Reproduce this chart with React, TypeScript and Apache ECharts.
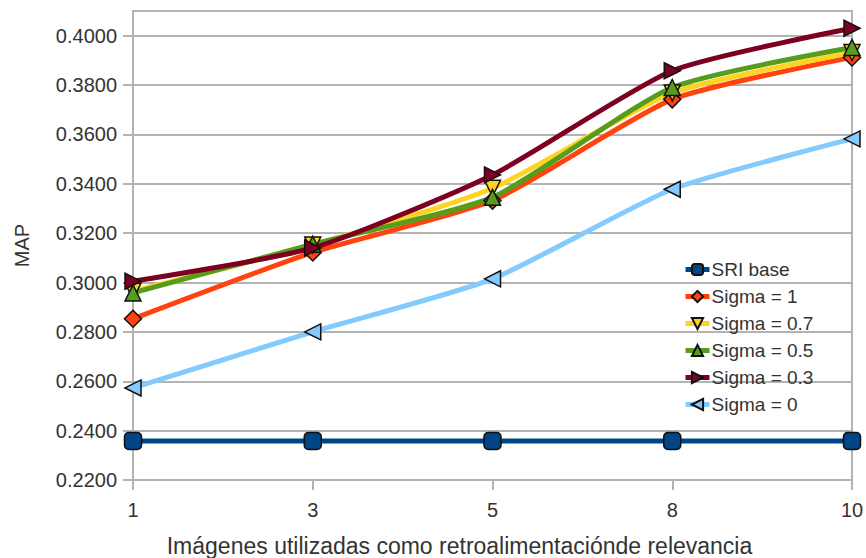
import React, { useEffect, useRef } from "react";
import * as echarts from "echarts";

const categories = ["1", "3", "5", "8", "10"];
const sriBase = [0.2358, 0.2358, 0.2358, 0.2358, 0.2358];
const sigma1 = [0.2853, 0.3122, 0.3332, 0.3742, 0.3912];
const sigma07 = [0.2965, 0.3152, 0.3382, 0.3768, 0.3932];
const sigma05 = [0.2958, 0.3155, 0.3345, 0.3790, 0.3952];
const sigma03 = [0.3005, 0.3140, 0.3436, 0.3858, 0.4030];
const sigma0 = [0.2573, 0.2800, 0.3015, 0.3378, 0.3582];
const yTicks = [0.22, 0.24, 0.26, 0.28, 0.3, 0.32, 0.34, 0.36, 0.38, 0.4];

const FONT = "'Liberation Sans', Arial, sans-serif";
const TEXT = "#333333";
const GRID = "#b3b3b3";

export default function App() {
  const ref = useRef<HTMLDivElement>(null);
  useEffect(() => {
    if (!ref.current) return;
    const chart = echarts.init(ref.current, undefined, { renderer: "svg" });
    const mk = (name: string, data: number[], color: string, symbol: string, size: number, rotate = 0) => ({
      name,
      type: "line",
      data,
      smooth: 0.2,
      symbol,
      symbolSize: size,
      symbolRotate: rotate,
      showAllSymbol: true,
      lineStyle: { color, width: 5 },
      itemStyle: { color, borderColor: "#111", borderWidth: 1.5 },
    });
    chart.setOption({
      animation: false,
      textStyle: { fontFamily: FONT },
      grid: {
        left: 133,
        right: 14,
        top: 11,
        bottom: 78,
        outerBoundsMode: "none",
        show: true,
        borderColor: GRID,
        borderWidth: 2,
      },
      legend: {
        orient: "vertical",
        left: 678,
        top: 255,
        itemWidth: 24,
        itemHeight: 14,
        itemGap: 8,
        lineStyle: { width: 5 },
        textStyle: { fontSize: 19, color: TEXT, fontFamily: FONT, padding: [0, 0, 0, -3] },
        data: ["SRI base", "Sigma = 1", "Sigma = 0.7", "Sigma = 0.5", "Sigma = 0.3", "Sigma = 0"],
      },
      xAxis: {
        type: "category",
        data: categories,
        boundaryGap: false,
        name: "Imágenes utilizadas como retroalimentaciónde relevancia",
        nameLocation: "middle",
        nameGap: 54,
        nameTextStyle: { fontSize: 23, color: TEXT, fontFamily: FONT, padding: [0, 66, 0, 0] },
        axisLine: { lineStyle: { color: GRID, width: 2 } },
        axisTick: { show: true, length: 10, alignWithLabel: true, lineStyle: { color: GRID, width: 2 } },
        axisLabel: { fontSize: 20, color: TEXT, margin: 20, fontFamily: FONT },
        splitLine: { show: false },
      },
      yAxis: {
        type: "value",
        min: 0.22,
        max: 0.41,
        interval: 0.02,
        name: "MAP",
        nameLocation: "middle",
        nameGap: 101,
        nameTextStyle: { fontSize: 20, color: TEXT, fontFamily: FONT },
        axisLine: { show: true, lineStyle: { color: GRID, width: 2 } },
        axisTick: { show: true, length: 10, customValues: yTicks, lineStyle: { color: GRID, width: 2 } },
        axisLabel: {
          fontSize: 20,
          color: TEXT,
          margin: 16,
          fontFamily: FONT,
          customValues: yTicks,
          formatter: (v: number) => v.toFixed(4),
        },
        splitLine: { show: true, lineStyle: { color: GRID, width: 2 } },
      },
      series: [
        mk("SRI base", sriBase, "#004586", "roundRect", 17),
        mk("Sigma = 1", sigma1, "#ff420e", "diamond", 17),
        mk("Sigma = 0.7", sigma07, "#ffd320", "triangle", 16, 180),
        mk("Sigma = 0.5", sigma05, "#579d1c", "triangle", 16),
        mk("Sigma = 0.3", sigma03, "#7e0021", "triangle", 16, -90),
        mk("Sigma = 0", sigma0, "#83caff", "triangle", 16, 90),
      ],
    });
    return () => chart.dispose();
  }, []);
  return <div ref={ref} style={{ position: "absolute", left: 0, top: 0, width: 866, height: 558 }} />;
}
